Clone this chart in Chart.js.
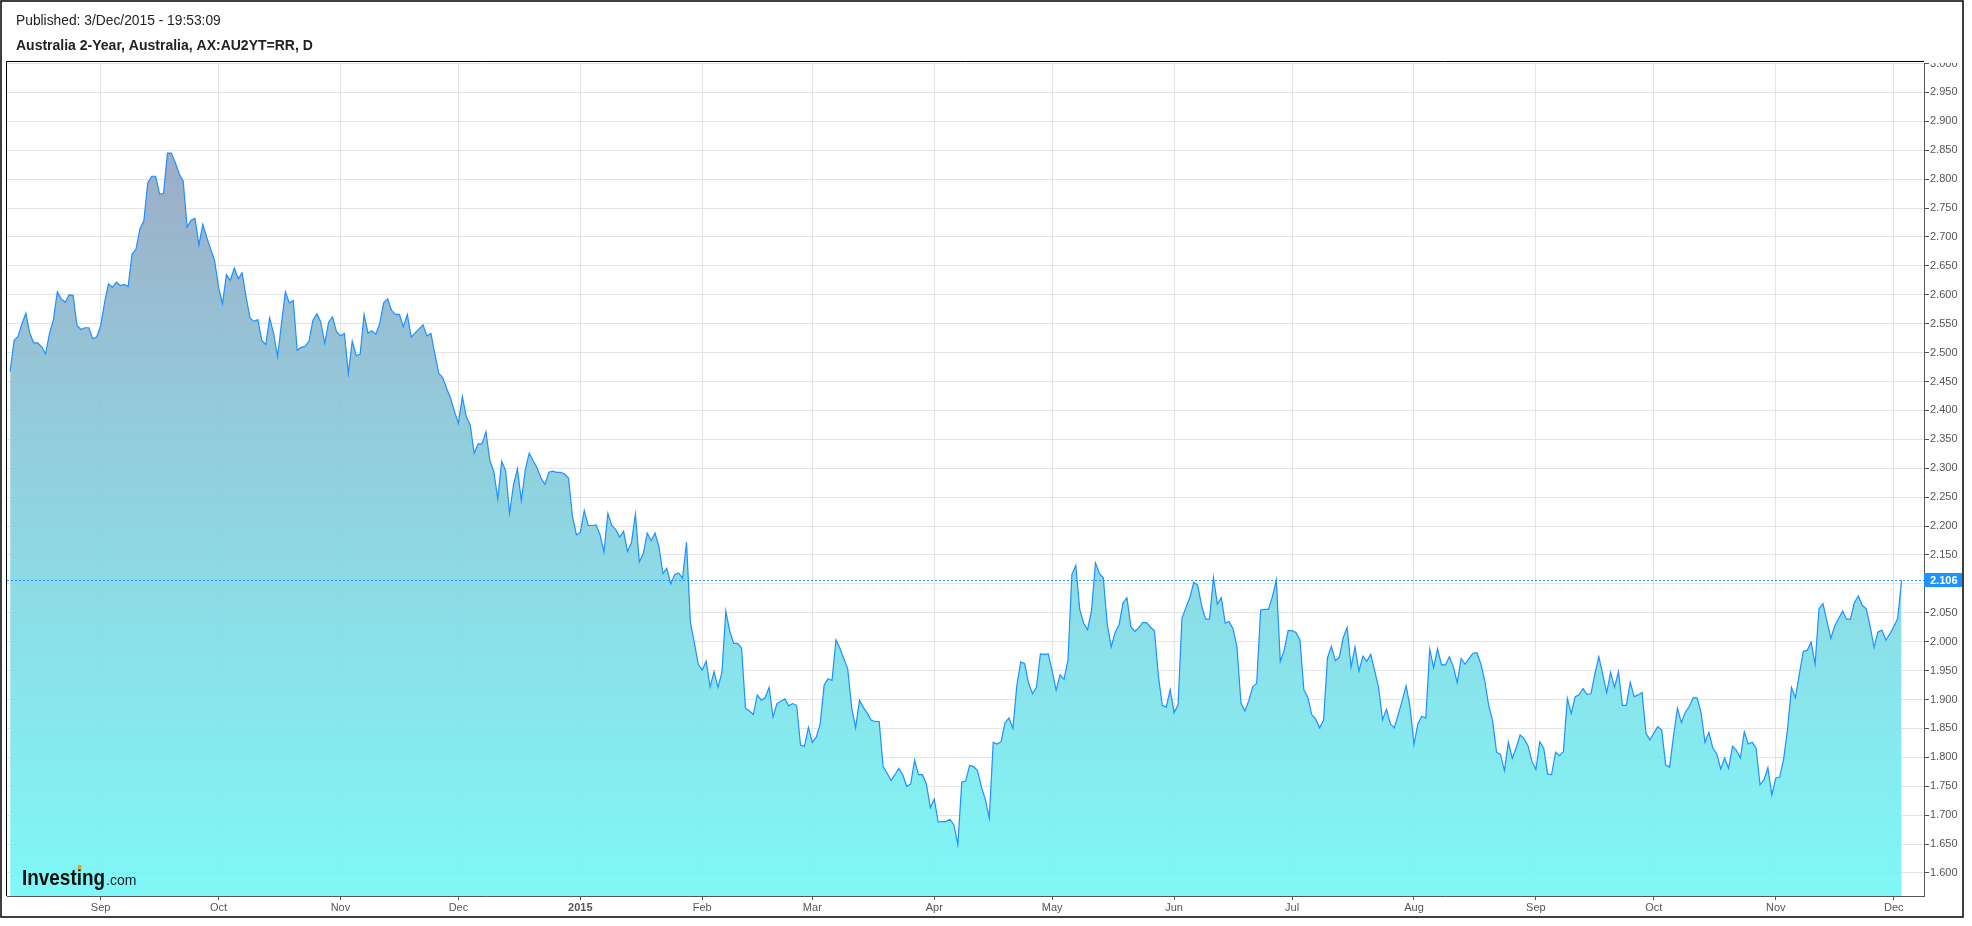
<!DOCTYPE html>
<html>
<head>
<meta charset="utf-8">
<title>Australia 2-Year</title>
<script src="https://cdn.jsdelivr.net/npm/chart.js@4.4.0/dist/chart.umd.min.js"></script>
<style>
  html, body { margin: 0; padding: 0; background: #fff; }
  canvas { display: block; }
</style>
</head>
<body>
<canvas id="yieldChart" width="1972" height="926"></canvas>
<script>
// Teks judul
const publishedText = "Published: 3/Dec/2015 - 19:53:09";
const seriesTitle = "Australia 2-Year, Australia, AX:AU2YT=RR, D";

// Label sumbu X (awal bulan)
const monthStarts = [
  "2014-09-01", "2014-10-01", "2014-11-01", "2014-12-01", "2015-01-01",
  "2015-02-01", "2015-03-01", "2015-04-01", "2015-05-01", "2015-06-01",
  "2015-07-01", "2015-08-01", "2015-09-01", "2015-10-01", "2015-11-01",
  "2015-12-01",
];
const monthLabels = [
  "Sep", "Oct", "Nov", "Dec", "2015", "Feb", "Mar", "Apr", "May", "Jun",
  "Jul", "Aug", "Sep", "Oct", "Nov", "Dec",
];

// Label sumbu Y
const yTicks = [
  1.60, 1.65, 1.70, 1.75, 1.80, 1.85, 1.90, 1.95, 2.00, 2.05, 2.10, 2.15,
  2.20, 2.25, 2.30, 2.35, 2.40, 2.45, 2.50, 2.55, 2.60, 2.65, 2.70, 2.75,
  2.80, 2.85, 2.90, 2.95, 3.00,
];

// Data harian (satu nilai per hari, mulai dari tanggal awal tiap potongan)
const startAug14 = "2014-08-09";
const yieldsAug14 = [
  2.467, 2.521, 2.528, 2.550, 2.568, 2.533, 2.517, 2.517, 2.510, 2.498,
  2.533, 2.557, 2.605, 2.593, 2.587, 2.600, 2.599, 2.547, 2.540, 2.543,
  2.543, 2.524, 2.527, 2.546, 2.586, 2.619, 2.613, 2.622, 2.616, 2.618,
  2.614, 2.670, 2.679, 2.714, 2.728, 2.794, 2.805, 2.805, 2.774, 2.775,
  2.845, 2.845, 2.829, 2.809, 2.797, 2.717, 2.729, 2.732, 2.686, 2.722,
  2.699, 2.679, 2.659, 2.613, 2.585, 2.635, 2.625, 2.646, 2.628, 2.638,
  2.596, 2.560, 2.554, 2.557, 2.521, 2.514, 2.560, 2.533, 2.493, 2.550,
  2.605, 2.586, 2.590,
];

const startOct14 = "2014-10-21";
const yieldsOct14 = [
  2.504, 2.509, 2.511, 2.520, 2.556, 2.567, 2.553, 2.516, 2.553, 2.562,
  2.536, 2.529, 2.533, 2.464, 2.520, 2.495, 2.497, 2.566, 2.534, 2.538,
  2.532, 2.551, 2.586, 2.593, 2.573, 2.566, 2.566, 2.545, 2.566, 2.527,
  2.534, 2.541, 2.548, 2.529, 2.533, 2.498, 2.464, 2.457, 2.438, 2.421,
  2.398, 2.378, 2.424, 2.389, 2.375, 2.326, 2.342, 2.342, 2.363, 2.313,
  2.294, 2.247, 2.312, 2.296, 2.222, 2.271, 2.299, 2.244, 2.297, 2.326,
  2.313, 2.301, 2.283, 2.272, 2.293, 2.295, 2.293, 2.293, 2.290, 2.283,
  2.217, 2.185, 2.189,
];

const startJan15 = "2015-01-02";
const yieldsJan15 = [
  2.227, 2.201, 2.201, 2.202, 2.185, 2.155, 2.222,
  2.201, 2.194, 2.181, 2.191, 2.156, 2.171, 2.221, 2.138, 2.152, 2.188,
  2.175, 2.188, 2.164, 2.118, 2.127, 2.100, 2.116, 2.119, 2.110, 2.172,
  2.033, 1.998, 1.961, 1.951, 1.966, 1.922, 1.948, 1.921, 1.947, 2.053,
  2.018, 1.997, 1.997, 1.989, 1.885, 1.880, 1.874, 1.908, 1.899, 1.903,
  1.921, 1.870, 1.893, 1.897, 1.901, 1.889, 1.893, 1.890, 1.821, 1.819,
  1.852, 1.826, 1.835, 1.858, 1.925, 1.936, 1.933, 2.003, 1.989, 1.971,
  1.953, 1.886, 1.851, 1.899, 1.886, 1.876,
];

const startMar15 = "2015-03-16";
const yieldsMar15 = [
  1.864, 1.862, 1.862, 1.784,
  1.773, 1.760, 1.770, 1.781, 1.770, 1.750, 1.754, 1.795, 1.770, 1.770,
  1.754, 1.713, 1.728, 1.688, 1.689, 1.689, 1.693, 1.683, 1.649, 1.757,
  1.759, 1.786, 1.784, 1.777, 1.749, 1.727, 1.695, 1.826, 1.823, 1.827,
  1.860, 1.868, 1.850, 1.924, 1.965, 1.962, 1.928, 1.910, 1.921, 1.979,
  1.978, 1.979, 1.949, 1.916, 1.943, 1.935, 1.968, 2.116, 2.132, 2.056,
  2.032, 2.021, 2.054, 2.136, 2.118, 2.110, 2.030, 1.991, 2.016, 2.029,
  2.067, 2.076, 2.026, 2.018, 2.024, 2.033, 2.033, 2.025,
];

const startMay15 = "2015-05-27";
const yieldsMay15 = [
  2.019, 1.941,
  1.890, 1.887, 1.917, 1.877, 1.891, 2.041, 2.059, 2.076, 2.103, 2.098,
  2.062, 2.039, 2.039, 2.111, 2.065, 2.076, 2.032, 2.035, 2.022, 1.990,
  1.894, 1.880, 1.898, 1.922, 1.928, 2.055, 2.056, 2.056, 2.078, 2.107,
  1.966, 1.985, 2.019, 2.019, 2.016, 2.003, 1.917, 1.904, 1.874, 1.866,
  1.851, 1.864, 1.972, 1.992, 1.967, 1.973, 2.007, 2.025, 1.956, 1.991,
  1.949, 1.975, 1.966, 1.978, 1.950, 1.921, 1.865, 1.883, 1.858, 1.851,
  1.874, 1.898, 1.924, 1.887, 1.822, 1.858, 1.871, 1.868, 1.987,
];

const startAug15 = "2015-08-06";
const yieldsAug15 = [
  1.955,
  1.988, 1.960, 1.960, 1.974, 1.957, 1.929, 1.971, 1.961, 1.971, 1.980,
  1.981, 1.962, 1.932, 1.890, 1.863, 1.809, 1.805, 1.777, 1.826, 1.798,
  1.817, 1.839, 1.832, 1.820, 1.793, 1.779, 1.827, 1.816, 1.771, 1.770,
  1.809, 1.803, 1.810, 1.902, 1.876, 1.905, 1.908, 1.919, 1.909, 1.910,
  1.944, 1.974, 1.944, 1.912, 1.947, 1.921, 1.948, 1.890, 1.890, 1.930,
  1.905, 1.908, 1.912, 1.842, 1.830, 1.842, 1.853, 1.847, 1.787, 1.783,
  1.837, 1.885, 1.860, 1.878, 1.888, 1.903, 1.903, 1.878, 1.826, 1.843,
];

const startOct15 = "2015-10-16";
const yieldsOct15 = [
  1.816, 1.806, 1.780, 1.799, 1.781, 1.819, 1.812, 1.799, 1.844, 1.823,
  1.826, 1.816, 1.753, 1.761, 1.782, 1.735, 1.764, 1.766, 1.797, 1.849,
  1.921, 1.903, 1.944, 1.983, 1.985, 1.999, 1.961, 2.057, 2.066, 2.036,
  2.006, 2.027, 2.040, 2.053, 2.039, 2.039, 2.068, 2.079, 2.063, 2.057,
  2.027, 1.990, 2.017, 2.020, 2.003, 2.013, 2.026, 2.040, 2.106,
];

// Fungsi bantu: tanggal "YYYY-MM-DD" -> nomor hari
function dayNum(s) {
  return Date.UTC(+s.slice(0, 4), +s.slice(5, 7) - 1, +s.slice(8, 10)) / 86400000;
}

// Gabungkan potongan data menjadi titik {x, y}
const pieces = [
  [startAug14, yieldsAug14],
  [startOct14, yieldsOct14],
  [startJan15, yieldsJan15],
  [startMar15, yieldsMar15],
  [startMay15, yieldsMay15],
  [startAug15, yieldsAug15],
  [startOct15, yieldsOct15],
];
const points = [];
pieces.forEach(([start, vals]) => {
  const d0 = dayNum(start);
  vals.forEach((v, i) => points.push({ x: d0 + i, y: v }));
});
const lastValue = points[points.length - 1].y;

const LINE_BLUE = "#1e90ff";
const FONT = '"Liberation Sans", Arial, sans-serif';

// Plugin untuk bingkai, judul, logo dan penanda nilai terakhir
const decorPlugin = {
  id: "decor",
  beforeDraw(chart) {
    const ctx = chart.ctx;
    ctx.save();
    ctx.beginPath();
    ctx.rect(0, 63, chart.width, chart.height - 63);
    ctx.clip();
  },
  afterDatasetsDraw(chart) {
    const ctx = chart.ctx;
    const area = chart.chartArea;
    const y = Math.round(chart.scales.y.getPixelForValue(lastValue)) + 0.5;

    // Garis putus-putus nilai terakhir
    ctx.save();
    ctx.strokeStyle = LINE_BLUE;
    ctx.lineWidth = 1;
    ctx.setLineDash([2, 2]);
    ctx.beginPath();
    ctx.moveTo(area.left, y);
    ctx.lineTo(area.right, y);
    ctx.stroke();
    ctx.restore();

    // Logo Investing.com
    const sx = 0.86;
    ctx.save();
    ctx.fillStyle = "#111";
    ctx.textBaseline = "alphabetic";
    ctx.font = "bold 22px " + FONT;
    const w = ctx.measureText("Investing").width;
    const wPre = ctx.measureText("Invest").width;
    const wI = ctx.measureText("i").width;
    ctx.translate(22, 885);
    ctx.scale(sx, 1);
    ctx.fillText("Investing", 0, 0);
    ctx.restore();
    ctx.save();
    ctx.fillStyle = "#222";
    ctx.font = "14px " + FONT;
    ctx.fillText(".com", 22 + w * sx + 1, 885);
    // titik oranye di atas huruf i
    ctx.fillStyle = "#f5a300";
    ctx.fillRect(22 + (wPre + wI / 2) * sx - 1.5, 865, 3.5, 4.5);
    ctx.restore();
  },
  afterDraw(chart) {
    const ctx = chart.ctx;
    const area = chart.chartArea;
    ctx.restore();

    // Label nilai terakhir di sumbu kanan
    const y = Math.round(chart.scales.y.getPixelForValue(lastValue));
    ctx.save();
    ctx.fillStyle = LINE_BLUE;
    ctx.fillRect(area.right, y - 7, 38, 14);
    ctx.fillStyle = "#fff";
    ctx.font = "bold 11px " + FONT;
    ctx.textBaseline = "middle";
    ctx.fillText(lastValue.toFixed(3), area.right + 6, y + 0.5);
    ctx.restore();

    // Bingkai
    ctx.save();
    ctx.strokeStyle = "#000";
    ctx.lineWidth = 1;
    ctx.beginPath();
    ctx.moveTo(area.left - 0.5, area.bottom);
    ctx.lineTo(area.left - 0.5, area.top - 0.5);
    ctx.lineTo(area.right, area.top - 0.5);
    ctx.stroke();
    ctx.lineWidth = 1.5;
    ctx.strokeRect(1, 1, 1962, 916);
    ctx.restore();

    // Judul
    ctx.save();
    ctx.fillStyle = "#222";
    ctx.textBaseline = "middle";
    ctx.font = "13.8px " + FONT;
    ctx.fillText(publishedText, 16, 21);
    ctx.font = "bold 14px " + FONT;
    ctx.fillText(seriesTitle, 16, 46);
    ctx.restore();
  },
};

// Gradasi isian area
function areaGradient(context) {
  const chart = context.chart;
  const area = chart.chartArea;
  if (!area) return null;
  const g = chart.ctx.createLinearGradient(0, area.top, 0, area.bottom);
  g.addColorStop(0, "rgba(150, 152, 186, 0.9)");
  g.addColorStop(0.45, "rgba(135, 200, 216, 0.9)");
  g.addColorStop(1, "rgba(114, 247, 247, 0.9)");
  return g;
}

const ctx = document.getElementById("yieldChart").getContext("2d");
const chart = new Chart(ctx, {
  type: "line",
  data: {
    datasets: [
      {
        label: seriesTitle,
        data: points,
        borderColor: LINE_BLUE,
        borderWidth: 1.2,
        backgroundColor: areaGradient,
        fill: "start",
        pointRadius: 0,
        tension: 0,
      },
    ],
  },
  options: {
    responsive: false,
    animation: false,
    layout: { padding: { top: 62, left: 7, right: 9, bottom: 9 } },
    plugins: {
      legend: { display: false },
      tooltip: { enabled: false },
    },
    scales: {
      x: {
        type: "linear",
        min: dayNum("2014-08-08") + 0.2,
        max: dayNum("2015-12-08") + 0.7,
        afterBuildTicks: (scale) => {
          scale.ticks = monthStarts.map((s) => ({ value: dayNum(s) }));
        },
        afterFit: (scale) => {
          scale.height = 21;
        },
        ticks: {
          autoSkip: false,
          maxRotation: 0,
          padding: 1,
          color: "#555",
          callback: (value, index) => monthLabels[index],
          font: (c) => ({
            family: FONT,
            size: 11,
            weight: c.tick && c.tick.label === "2015" ? "bold" : "normal",
          }),
        },
        grid: { color: "#e4e4e4", tickColor: "#555", tickLength: 4 },
        border: { color: "#555" },
      },
      y: {
        position: "right",
        min: 1.5602,
        max: 3.0026,
        afterBuildTicks: (scale) => {
          scale.ticks = yTicks.map((v) => ({ value: v }));
        },
        afterFit: (scale) => {
          scale.width = 39;
        },
        ticks: {
          padding: 1,
          color: "#555",
          font: { family: FONT, size: 11 },
          callback: (value) => value.toFixed(3),
        },
        grid: { color: "#e4e4e4", tickColor: "#555", tickLength: 5 },
        border: { color: "#555" },
      },
    },
  },
  plugins: [decorPlugin],
});
</script>
</body>
</html>
